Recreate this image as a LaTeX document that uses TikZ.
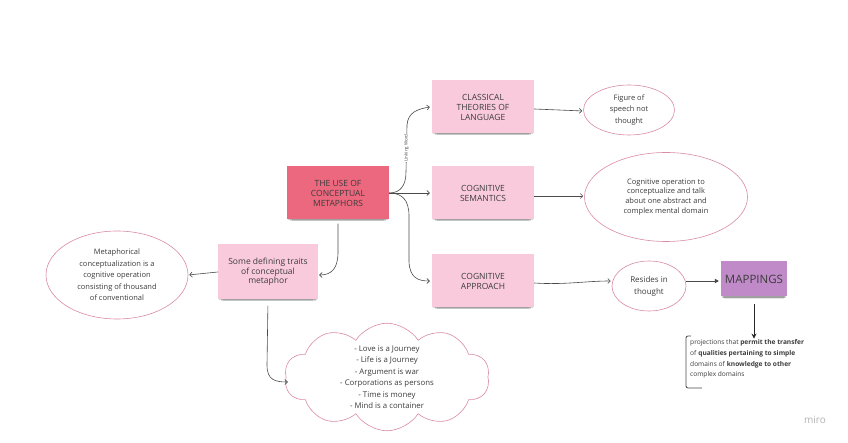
\documentclass[tikz,border=0pt]{standalone}
\usepackage{fontspec}
\setmainfont{Open Sans}
\usetikzlibrary{shapes.geometric,shapes.symbols,arrows.meta,shadows}
\definecolor{stickypink}{HTML}{F9CADB}
\definecolor{mainred}{HTML}{EB687E}
\definecolor{mappurple}{HTML}{C08AC9}
\definecolor{ellipsepink}{HTML}{D98BA5}
\definecolor{textgray}{HTML}{3C3C3C}
\definecolor{linegray}{HTML}{4A4A4A}
\begin{document}
\begin{tikzpicture}[x=1pt,y=-1pt,
  sticky/.style={rectangle, fill=stickypink, minimum width=102pt, minimum height=53pt,
    align=center, text=textgray, font=\fontsize{8.5}{10}\selectfont, inner sep=2pt,
    drop shadow={shadow xshift=0pt, shadow yshift=-4.5pt, shadow scale=0.9, opacity=0.10, fill=black},
    drop shadow={shadow xshift=0pt, shadow yshift=-3pt, shadow scale=0.95, opacity=0.14, fill=black},
    drop shadow={shadow xshift=0pt, shadow yshift=-1.5pt, shadow scale=0.98, opacity=0.18, fill=black}},
  conn/.style={draw=linegray, line width=0.6pt, -{Straight Barb[length=2.5pt,width=5pt]}},
  bubble/.style={ellipse, draw=ellipsepink, line width=0.6pt, fill=white, align=center,
    inner sep=0pt, text=textgray},
]
\path[use as bounding box, fill=white] (0,0) rectangle (848,443);

\node[sticky, fill=mainred] (main) at (338,193) {THE USE OF\\CONCEPTUAL\\METAPHORS};
\node[sticky] (classical) at (483,107) {CLASSICAL\\THEORIES OF\\LANGUAGE};
\node[sticky] (semantics) at (483,193) {COGNITIVE\\SEMANTICS};
\node[sticky] (approach) at (483,281) {COGNITIVE\\APPROACH};
\node[sticky, minimum width=100pt, minimum height=55pt, font=\fontsize{8.5}{9.5}\selectfont] (traits) at (268,272) {Some defining traits\\of conceptual\\metaphor};
\node[bubble, minimum width=142pt, minimum height=88pt, font=\fontsize{7.5}{11.5}\selectfont] (meta) at (117,275) {Metaphorical\\conceptualization is a\\cognitive operation\\consisting of thousand\\of conventional};
\node[bubble, minimum width=91pt, minimum height=50pt, font=\fontsize{7.5}{11.5}\selectfont] (figure) at (629,110) {Figure of\\speech not\\thought};
\node[bubble, minimum width=163pt, minimum height=89pt, font=\fontsize{7.5}{9.8}\selectfont] (cogop) at (666,197) {Cognitive operation to\\conceptualize and talk\\about one abstract and\\complex mental domain};
\node[bubble, minimum width=74pt, minimum height=50pt, font=\fontsize{8}{12}\selectfont] (resides) at (649,286) {Resides in\\thought};
\node[sticky, fill=mappurple, minimum width=66pt, minimum height=35pt, font=\fontsize{11.5}{13}\selectfont] (mappings) at (754,279) {MAPPINGS};
\node[cloud, cloud puffs=10, cloud puff arc=115, cloud ignores aspect, draw=ellipsepink, fill=white,
  line width=0.6pt, minimum width=205pt, minimum height=97pt, inner sep=0pt, align=center,
  font=\fontsize{7.8}{11.5}\selectfont, text=textgray] (cloud) at (387,377)
  {- Love is a Journey\\- Life is a Journey\\- Argument is war\\- Corporations as persons\\- Time is money\\- Mind is a container};
\node[anchor=west, align=left, font=\fontsize{6.6}{10.6}\selectfont, text=textgray, inner sep=1pt] (proj) at (689,359)
  {projections that \textbf{permit the transfer}\\of \textbf{qualities pertaining to simple}\\domains of \textbf{knowledge to other}\\complex domains};
\draw[linegray, line width=0.8pt, rounded corners=2pt] (691,336) -- (686,336) -- (686,388) -- (702,388);
\node[text=black!30, font=\fontsize{10}{12}\selectfont] (logo) at (815,420) {miro};

% connectors
\draw[conn] (main.east) .. controls (400,193) and (406,186) .. (406,172) -- (407,125)
  .. controls (408,112) and (418,109) .. ([xshift=-2pt]classical.west);
\node[rotate=90, font=\fontsize{4.5}{5}\selectfont, fill=white, inner sep=0.6pt, text=linegray] (lw) at (406.5,148) {Linking Word};
\draw[conn, shorten >=2pt] (main.east) -- (semantics.west);
\draw[conn] (main.east) .. controls (402,193) and (409,200) .. (409,216) -- (409,262)
  .. controls (410,278) and (418,281) .. ([xshift=-2pt]approach.west);
\draw[conn, shorten <=4pt] (main.south) -- (338,252) .. controls (338,268) and (332,275) .. ([xshift=1pt,yshift=-3pt]traits.east);
\draw[conn, shorten >=1pt] (traits.west) -- (meta.east);
\draw[conn, shorten <=6pt] (traits.south) -- (267,365) .. controls (267,380) and (275,382) .. ([xshift=2pt,yshift=-5pt]cloud.west);
\draw[conn, shorten >=1pt] ([yshift=-2pt]classical.east) -- ([yshift=-1pt]figure.west);
\draw[conn, shorten >=1pt] ([yshift=-3pt]semantics.east) -- ([yshift=1pt]cogop.west);
\draw[conn, shorten >=1pt] ([yshift=-2pt]approach.east) .. controls (565,285) and (585,281) .. ([yshift=5pt]resides.west);
\draw[draw=linegray, line width=0.6pt, -{Triangle[length=4pt,width=4.5pt]}, shorten >=2pt] ([yshift=5pt]resides.east) -- ([yshift=-2pt]mappings.west);
\draw[draw=black!85, line width=1pt, -{Stealth[length=5pt,width=5pt]}, shorten <=7pt] (mappings.south) -- (mappings.south |- proj.north);
\end{tikzpicture}
\end{document}
